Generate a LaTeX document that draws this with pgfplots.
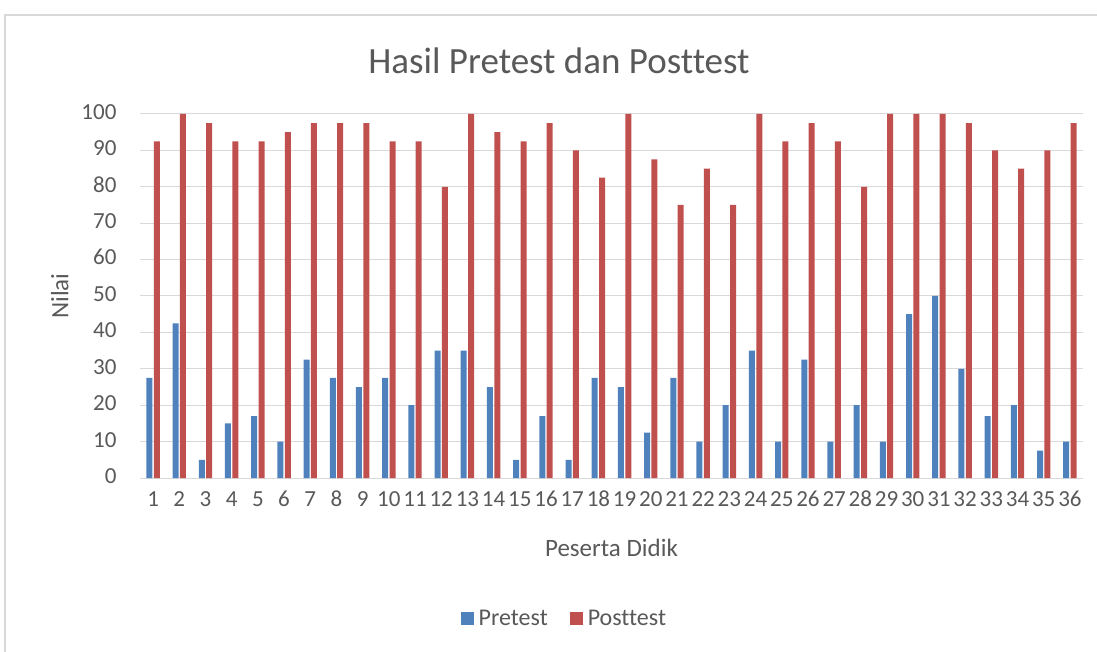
\documentclass[border=0pt]{standalone}
\usepackage{pgfplots}
\pgfplotsset{compat=1.18}
\usepackage{fontspec}
\setmainfont{Carlito}[Ligatures={NoCommon}]
\definecolor{txt}{HTML}{595959}
\definecolor{bblue}{HTML}{4F81BD}
\definecolor{rred}{HTML}{C0504D}
\definecolor{gridc}{HTML}{D9D9D9}
\begin{document}
\begin{tikzpicture}[x=1pt,y=1pt]
\useasboundingbox (0,0) rectangle (1097,651);
\draw[gridc, line width=1.2pt] (5,-2) -- (5,636) -- (1099,636);
\node[font=\fontsize{37}{44}\selectfont, text=txt] at (559,590) {Hasil Pretest dan Posttest};
\begin{axis}[
  at={(140pt,173pt)}, anchor=south west,
  width=943pt, height=364pt, scale only axis,
  ybar=1.4pt, bar width=6pt,
  xmin=0.5, xmax=36.5, ymin=0, ymax=100,
  ytick={0,10,...,100}, xtick={1,...,36},
  ymajorgrids, major grid style={gridc, line width=1pt},
  axis line style={draw=none}, tick style={draw=none},
  /pgf/number format/assume math mode=true,
  typeset ticklabels with strut,
  tick label style={text=txt, font=\fontsize{23}{27}\selectfont},
  yticklabel style={xshift=-20pt},
  xticklabel style={yshift=-2pt},
  xlabel={Peserta Didik}, ylabel={Nilai},
  label style={text=txt, font=\fontsize{25}{30}\selectfont},
  xlabel style={at={(axis description cs:0.5,-0.192)}, anchor=center},
  ylabel style={at={(axis description cs:-0.085,0.5)}, anchor=center},
  legend style={at={(axis description cs:0.45,-0.387)}, anchor=center, draw=none,
    font=\fontsize{24}{29}\selectfont, text=txt, legend columns=2,
    /tikz/every even column/.append style={column sep=20pt}},
  legend image code/.code={\fill[#1] (0pt,-6.5pt) rectangle (13pt,6.5pt);},
  legend cell align=left,
]
\addplot[fill=bblue, draw=none] coordinates {
(1,27.5) (2,42.5) (3,5) (4,15) (5,17) (6,10) (7,32.5) (8,27.5) (9,25) (10,27.5)
(11,20) (12,35) (13,35) (14,25) (15,5) (16,17) (17,5) (18,27.5) (19,25) (20,12.5)
(21,27.5) (22,10) (23,20) (24,35) (25,10) (26,32.5) (27,10) (28,20) (29,10) (30,45)
(31,50) (32,30) (33,17) (34,20) (35,7.5) (36,10)};
\addplot[fill=rred, draw=none] coordinates {
(1,92.5) (2,100) (3,97.5) (4,92.5) (5,92.5) (6,95) (7,97.5) (8,97.5) (9,97.5) (10,92.5)
(11,92.5) (12,80) (13,100) (14,95) (15,92.5) (16,97.5) (17,90) (18,82.5) (19,100) (20,87.5)
(21,75) (22,85) (23,75) (24,100) (25,92.5) (26,97.5) (27,92.5) (28,80) (29,100) (30,100)
(31,100) (32,97.5) (33,90) (34,85) (35,90) (36,97.5)};
\legend{\hspace{3pt}Pretest, \hspace{3pt}Posttest}
\end{axis}
\end{tikzpicture}
\end{document}
